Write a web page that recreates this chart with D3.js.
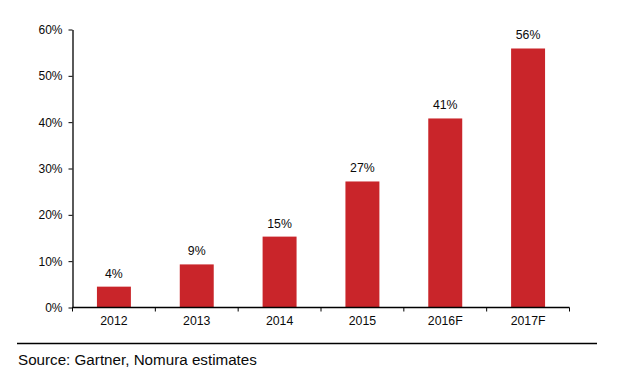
<!DOCTYPE html>
<html><head><meta charset="utf-8">
<script src="https://cdn.jsdelivr.net/npm/d3@7"></script>
<style>body{margin:0;background:#fff}svg text{font-family:"Liberation Sans",Arial,sans-serif;fill:#0a0a0a}</style>
</head><body><svg id="c" width="627" height="384"></svg>
<script>
const categories = ["2012","2013","2014","2015","2016F","2017F"];
const values = [4.5, 9.3, 15.3, 27.2, 40.8, 55.9];
const labels = ["4%","9%","15%","27%","41%","56%"];
const yTicks = [0,10,20,30,40,50,60];
const source = "Source: Gartner, Nomura estimates";

(function(){
const svg = d3.select("#c");
const mLeft = 72.5, mRight = 569.5, mTop = 29.5, mBottom = 307.5;
const x = d3.scaleBand().domain(categories).range([mLeft, mRight]);
const y = d3.scaleLinear().domain([0,60]).range([mBottom, mTop]);
const barW = x.bandwidth()*0.41;

svg.selectAll("rect.bar").data(values).join("rect")
  .attr("x",(d,i)=>x(categories[i])+x.bandwidth()/2-barW/2)
  .attr("y",d=>y(d)).attr("width",barW).attr("height",d=>y(0)-y(d))
  .attr("fill","#C9252A");

svg.selectAll("text.vl").data(values).join("text")
  .attr("x",(d,i)=>x(categories[i])+x.bandwidth()/2)
  .attr("y",d=>y(d)-9).attr("text-anchor","middle").attr("font-size","12.3px")
  .text((d,i)=>labels[i]);

const ya = svg.append("g").attr("transform",`translate(${mLeft},0)`)
  .call(d3.axisLeft(y).tickValues(yTicks).tickFormat(d=>d+"%").tickSize(4).tickPadding(6).tickSizeOuter(0));
ya.select(".domain").attr("stroke","#000").attr("stroke-width",1.3);
ya.selectAll(".tick line").attr("stroke","#000");
ya.selectAll("text").attr("font-size","12px").attr("font-family","Liberation Sans, Arial, sans-serif").attr("fill","#0a0a0a");

const xa = svg.append("g").attr("transform",`translate(0,${mBottom})`);
xa.append("line").attr("x1",mLeft).attr("x2",mRight).attr("stroke","#000").attr("stroke-width",1.3);
const bounds = categories.map(c=>x(c)).concat([mRight]);
xa.selectAll("line.t").data(bounds).join("line").attr("class","t").attr("x1",d=>d).attr("x2",d=>d).attr("y1",0).attr("y2",4).attr("stroke","#000");
xa.selectAll("text").data(categories).join("text")
  .attr("x",d=>x(d)+x.bandwidth()/2).attr("y",17).attr("text-anchor","middle").attr("font-size","12.3px").text(d=>d);

svg.append("line").attr("x1",17).attr("x2",597).attr("y1",343.5).attr("y2",343.5).attr("stroke","#000").attr("stroke-width",1.3);
svg.append("text").attr("x",18).attr("y",364.5).attr("font-size","15.2px").text(source);
})();
</script></body></html>
